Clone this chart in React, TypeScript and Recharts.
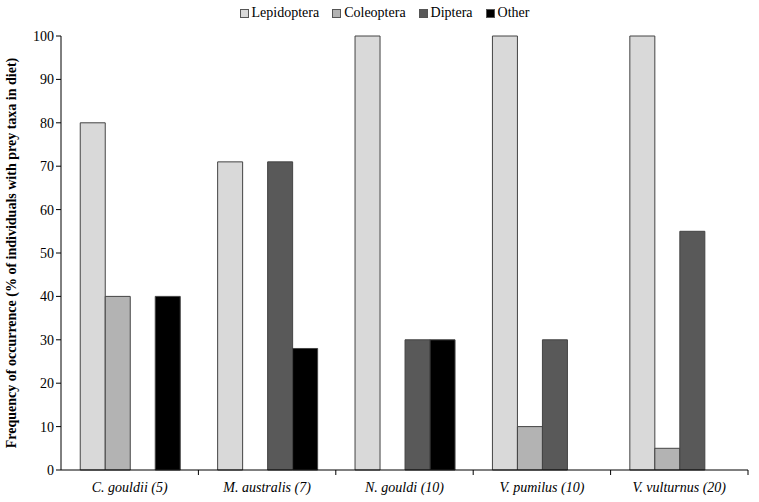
import { BarChart, Bar, XAxis, YAxis } from 'recharts';

const species = ['C. gouldii (5)', 'M. australis (7)', 'N. gouldi (10)', 'V. pumilus (10)', 'V. vulturnus (20)'];
const lepidoptera = [80, 71, 100, 100, 100];
const coleoptera = [40, 0, 0, 10, 5];
const diptera = [0, 71, 30, 30, 55];
const other = [40, 28, 30, 0, 0];
const yTicks = [0, 10, 20, 30, 40, 50, 60, 70, 80, 90, 100];

const taxa = [
  { key: 'lep', name: 'Lepidoptera', color: '#d9d9d9' },
  { key: 'col', name: 'Coleoptera', color: '#b3b3b3' },
  { key: 'dip', name: 'Diptera', color: '#595959' },
  { key: 'oth', name: 'Other', color: '#000000' },
];

const data = species.map((s, i) => ({
  name: s,
  lep: lepidoptera[i],
  col: coleoptera[i],
  dip: diptera[i],
  oth: other[i],
}));

const W = 759;
const H = 502;
const LEFT = 61;
const RIGHT = 11;
const FONT = 'Liberation Serif';

const band = (W - LEFT - RIGHT) / species.length;

function CatTick(props: any) {
  const { x, y, payload } = props;
  return (
    <g>
      <line x1={x + band / 2} x2={x + band / 2} y1={y - 8} y2={y - 3} stroke="#000" strokeWidth={1} />
      <text x={x} y={y + 14} textAnchor="middle" style={{ fontFamily: FONT }} fontSize={14} fontStyle="italic" fill="#000">
        {payload.value}
      </text>
    </g>
  );
}

export default function App() {
  return (
    <div style={{ position: 'absolute', left: 0, top: 0, width: W, height: H, background: '#fff', fontFamily: FONT }}>
      <div
        style={{
          position: 'absolute',
          top: 4,
          left: 0,
          width: W,
          display: 'flex',
          justifyContent: 'center',
          gap: 13,
          fontSize: 14,
          lineHeight: '18px',
          fontFamily: FONT,
          color: '#000',
          paddingLeft: 10,
          boxSizing: 'border-box',
        }}
      >
        {taxa.map((t) => (
          <span key={t.key} style={{ display: 'flex', alignItems: 'center' }}>
            <span
              style={{
                display: 'inline-block',
                width: 7,
                height: 7,
                background: t.color,
                border: '1px solid #555',
                marginRight: 3,
              }}
            />
            {t.name}
          </span>
        ))}
      </div>
      <BarChart
        width={W}
        height={H}
        data={data}
        margin={{ top: 36, right: RIGHT, bottom: 0, left: 0 }}
        barCategoryGap="14%"
        barGap={0}
        style={{ fontFamily: FONT }}
      >
        <XAxis
          dataKey="name"
          height={32}
          stroke="#000"
          tickLine={false}
          tick={<CatTick />}
          interval={0}
        />
        <YAxis
          width={LEFT}
          domain={[0, 100]}
          ticks={yTicks}
          interval={0}
          stroke="#000"
          tickSize={5}
          tick={{ fontSize: 14, fill: '#000', style: { fontFamily: FONT } }}
          label={{
            value: 'Frequency of occurrence (% of individuals with prey taxa in diet)',
            angle: -90,
            position: 'insideLeft',
            dx: 6,
            dy: 0,
            style: { textAnchor: 'middle', fontFamily: FONT, fontSize: 14, fontWeight: 'bold', fill: '#000' },
          }}
        />
        {taxa.map((t) => (
          <Bar
            key={t.key}
            dataKey={t.key}
            name={t.name}
            fill={t.color}
            stroke="#444"
            strokeWidth={1}
            isAnimationActive={false}
          />
        ))}
      </BarChart>
    </div>
  );
}
